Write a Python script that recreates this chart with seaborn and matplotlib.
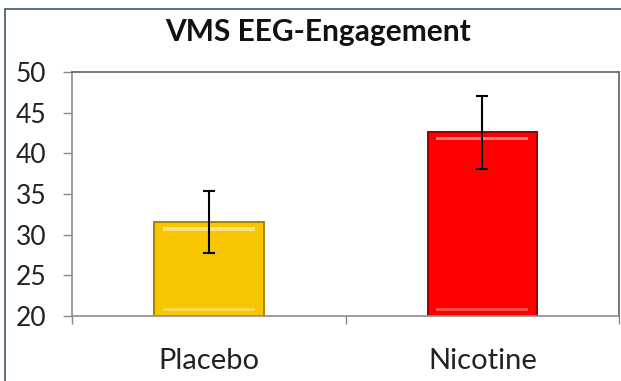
import matplotlib
matplotlib.use("Agg")
import matplotlib.pyplot as plt
import seaborn as sns
import pandas as pd
from matplotlib.patches import Rectangle

# Data
groups = ["Placebo", "Nicotine"]
means = [31.5, 42.6]
errors = [3.8, 4.5]
bar_colors = ["#F7C600", "#FF0000"]
edge_colors = ["#A88200", "#9A0000"]

df = pd.DataFrame({"group": groups, "value": means})

sns.set_style("white")
plt.rcParams["font.family"] = ["Lato", "DejaVu Sans"]

fig = plt.figure(figsize=(6.21, 3.81), dpi=100)
ax = fig.add_axes([0.116, 0.171, 0.881, 0.640])

sns.barplot(data=df, x="group", y="value", hue="group", palette=bar_colors,
            width=0.4, legend=False, ax=ax, saturation=1)

# simple bevel look + error bars, taken from the drawn bars
for patch, err, ec in zip(ax.patches, errors, edge_colors):
    patch.set_edgecolor(ec)
    patch.set_linewidth(1.4)
    x0, w, h = patch.get_x(), patch.get_width(), patch.get_height()
    ax.add_patch(Rectangle((x0 + w * 0.08, h - 1.0), w * 0.84, 0.45,
                           color="white", alpha=0.5, lw=0, zorder=3))
    ax.add_patch(Rectangle((x0 + w * 0.08, 20.6), w * 0.84, 0.35,
                           color="white", alpha=0.3, lw=0, zorder=3))
    ax.errorbar(x0 + w / 2, h, yerr=err, fmt="none", ecolor="black",
                elinewidth=1.5, capsize=4, capthick=1.5, zorder=4)

ax.set_ylim(20, 50)
ax.set_yticks(range(20, 51, 5))
ax.set_xlim(-0.5, 1.5)
ax.set_xticks([0, 1])
ax.set_xticks([-0.5, 0.5, 1.5], minor=True)
ax.set_xlabel("")
ax.set_ylabel("")

ax.tick_params(axis="y", which="major", direction="out", length=6.5, width=1,
               color="#888888", pad=12, labelsize=19, labelcolor="#222222", left=True)
ax.tick_params(axis="x", which="major", length=0, pad=23, labelsize=21,
               labelcolor="#222222")
ax.tick_params(axis="x", which="minor", direction="out", length=6, width=1,
               color="#888888", bottom=True)

for side in ["left", "bottom"]:
    ax.spines[side].set_color("#8c8c8c")
    ax.spines[side].set_linewidth(1.2)
for side in ["top", "right"]:
    ax.spines[side].set_color("#606060")
    ax.spines[side].set_linewidth(1.2)
    ax.spines[side].set_visible(True)

fig.text(318 / 621, 1 - 32 / 381, "VMS EEG-Engagement", ha="center", va="center",
         fontsize=21.5, fontweight="bold", color="#111111")

# outer frame of the picture
fig.patches.append(Rectangle((5 / 621, -0.05), 1.1, 1 - 9 / 381 + 0.05,
                             transform=fig.transFigure, fill=False,
                             edgecolor="#3f5670", lw=1.2))

fig.savefig("out.png", dpi=100)
